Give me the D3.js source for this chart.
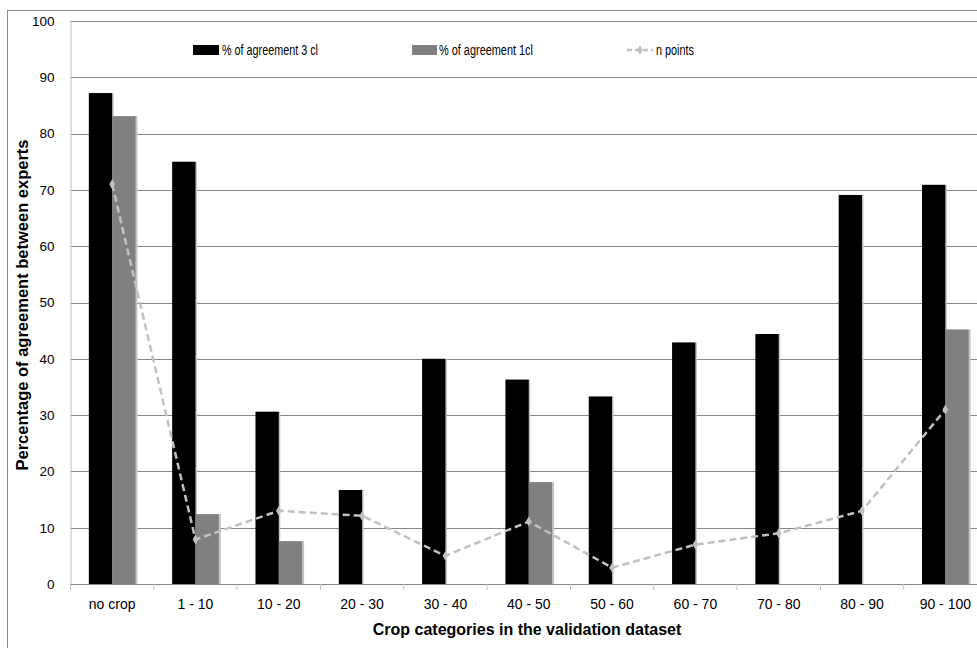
<!DOCTYPE html>
<html><head><meta charset="utf-8">
<script src="https://cdn.jsdelivr.net/npm/d3@7"></script>
<style>body{margin:0;background:#fff}svg{display:block}</style>
</head><body>
<svg id="c" width="977" height="648"></svg>
<script>
const categories = ["no crop","1 - 10","10 - 20","20 - 30","30 - 40","40 - 50","50 - 60","60 - 70","70 - 80","80 - 90","90 - 100"];
const agree3 = [87.2, 75.0, 30.6, 16.7, 40.0, 36.3, 33.3, 42.9, 44.4, 69.1, 70.9];
const agree1 = [83.1, 12.4, 7.6, 0, 0, 18.1, 0, 0, 0, 0, 45.2];
const nPoints = [71.0, 7.9, 13.0, 12.1, 5.0, 11.1, 2.9, 7.0, 9.0, 13.0, 31.0];
const yTicks = [0,10,20,30,40,50,60,70,80,90,100];
const seriesNames = ["% of agreement 3 cl","% of agreement 1cl","n points"];

const svg = d3.select("#c");
const font = "'Liberation Sans', Arial, sans-serif";
const L = 70.5, R = 987, T = 21, B = 584;

svg.append("rect").attr("x",7.5).attr("y",10.5).attr("width",1000).attr("height",700)
  .attr("fill","none").attr("stroke","#888").attr("stroke-width",1);

const x = d3.scaleBand().domain(categories).range([L,R]).paddingInner(0.44).paddingOuter(0.22);
const xb = d3.scaleBand().domain(categories).range([L,R]);
const y = d3.scaleLinear().domain([0,100]).range([B,T]);

// gridlines
svg.append("g").selectAll("line").data(yTicks.filter(d=>d>0)).join("line")
  .attr("x1",L).attr("x2",R).attr("y1",d=>Math.round(y(d))+0.5).attr("y2",d=>Math.round(y(d))+0.5)
  .attr("stroke","#868686").attr("stroke-width",1);

// y axis
const ya = svg.append("g").attr("transform",`translate(${L},0)`)
  .call(d3.axisLeft(y).tickValues(yTicks).tickSize(0).tickPadding(16));
ya.select(".domain").attr("stroke","#c0c0c0");
ya.selectAll("text").attr("font-family",font).attr("font-size",13.5).attr("fill","#000");

const bw = x.bandwidth()/2;
const g = svg.append("g");
g.selectAll("rect.s3").data(categories).join("rect")
  .attr("x",d=>x(d)+1.5).attr("width",bw).attr("y",(d,i)=>y(agree3[i])).attr("height",(d,i)=>B-y(agree3[i]))
  .attr("fill","#c4c4c4");
g.selectAll("rect.s1").data(categories.filter((d,i)=>agree1[i]>0)).join("rect")
  .attr("x",d=>x(d)+bw+2).attr("width",bw).attr("y",d=>y(agree1[categories.indexOf(d)])).attr("height",d=>B-y(agree1[categories.indexOf(d)]))
  .attr("fill","#c4c4c4");
g.selectAll("rect.b3").data(categories).join("rect")
  .attr("x",d=>x(d)).attr("width",bw).attr("y",(d,i)=>y(agree3[i])).attr("height",(d,i)=>B-y(agree3[i]))
  .attr("fill","#000");
g.selectAll("rect.b1").data(categories).join("rect")
  .attr("x",d=>x(d)+bw).attr("width",bw).attr("y",(d,i)=>y(agree1[i])).attr("height",(d,i)=>B-y(agree1[i]))
  .attr("fill","#808080");

// x axis
const xa = svg.append("g").attr("transform",`translate(0,${B})`)
  .call(d3.axisBottom(xb).tickSize(0).tickPadding(15));
xa.select(".domain").attr("stroke","#868686");
xa.selectAll("text").attr("font-family",font).attr("font-size",14).attr("fill","#000");
svg.append("g").selectAll("line").data(d3.range(categories.length+1)).join("line")
  .attr("x1",i=>L+i*xb.step()).attr("x2",i=>L+i*xb.step()).attr("y1",B).attr("y2",B+6)
  .attr("stroke","#c0c0c0");

// line
const cx = d => xb(d)+xb.bandwidth()/2;
const line = d3.line().x((d,i)=>cx(categories[i])).y(d=>y(d));
svg.append("path").datum(nPoints).attr("d",line).attr("fill","none")
  .attr("stroke","#c0c0c0").attr("stroke-width",2.5).attr("stroke-dasharray","7,4");
svg.append("g").selectAll("path").data(nPoints).join("path")
  .attr("d",d3.symbol(d3.symbolDiamond,28))
  .attr("transform",(d,i)=>`translate(${cx(categories[i])},${y(d)})`)
  .attr("fill","#c0c0c0");

// legend
const lg = svg.append("g").attr("font-family",font).attr("font-size",14);
lg.append("rect").attr("x",193).attr("y",45).attr("width",26).attr("height",10).attr("fill","#000");
lg.append("text").attr("x",222).attr("y",55).attr("textLength",96).attr("lengthAdjust","spacingAndGlyphs").text(seriesNames[0]);
lg.append("rect").attr("x",412).attr("y",45).attr("width",25).attr("height",10).attr("fill","#808080");
lg.append("text").attr("x",439).attr("y",55).attr("textLength",94).attr("lengthAdjust","spacingAndGlyphs").text(seriesNames[1]);
lg.append("line").attr("x1",627).attr("x2",653).attr("y1",50).attr("y2",50)
  .attr("stroke","#c0c0c0").attr("stroke-width",2.5).attr("stroke-dasharray","5,3");
lg.append("path").attr("d",d3.symbol(d3.symbolDiamond,28)).attr("transform","translate(640,50)").attr("fill","#c0c0c0");
lg.append("text").attr("x",656).attr("y",55).attr("textLength",38).attr("lengthAdjust","spacingAndGlyphs").text(seriesNames[2]);

// titles
svg.append("text").attr("transform",`translate(28,305) rotate(-90)`).attr("text-anchor","middle")
  .attr("font-family",font).attr("font-size",16.5).attr("font-weight","bold").text("Percentage of agreement between experts");
svg.append("text").attr("x",527).attr("y",635).attr("text-anchor","middle")
  .attr("font-family",font).attr("font-size",16).attr("font-weight","bold").text("Crop categories in the validation dataset");
</script>
</body></html>
